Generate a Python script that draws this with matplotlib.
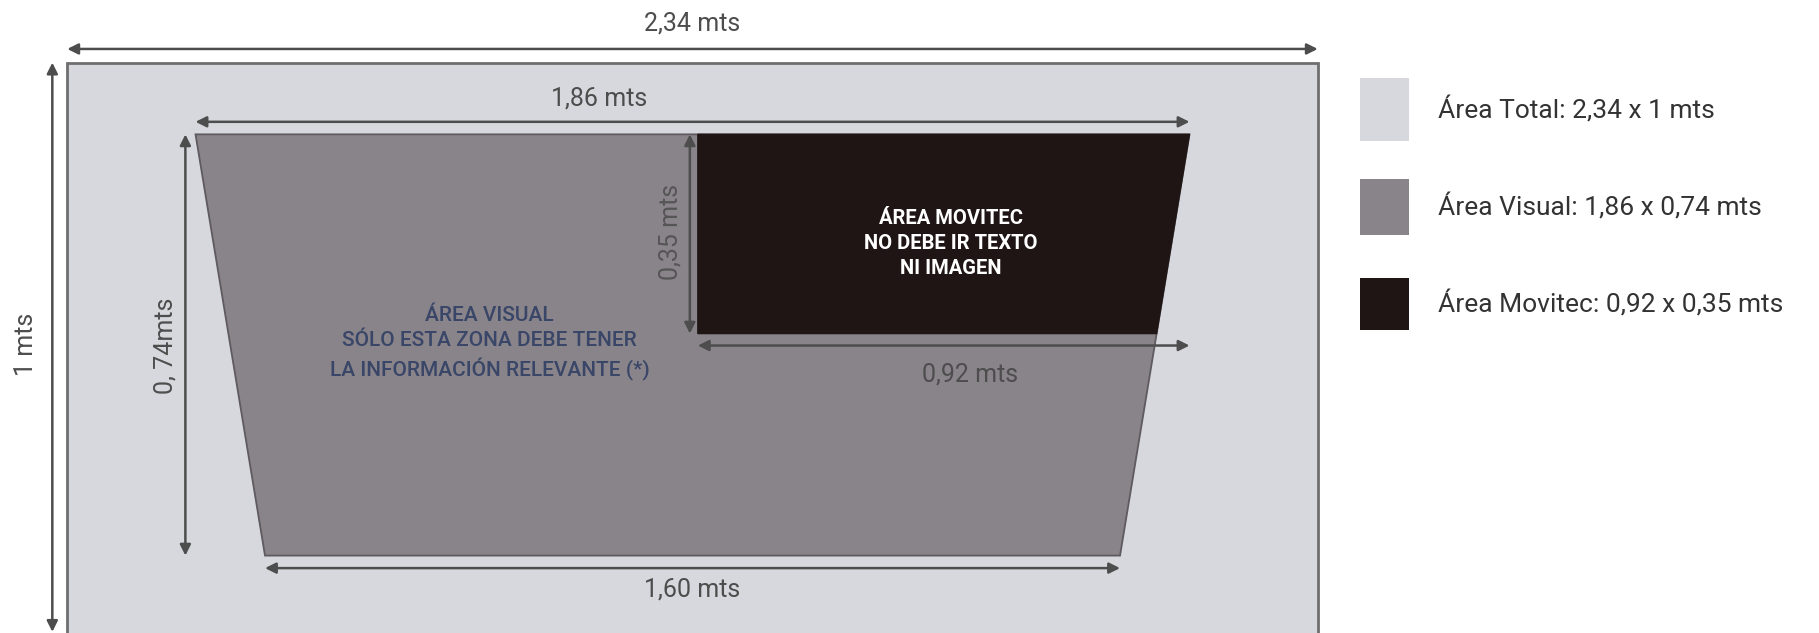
import matplotlib.pyplot as plt
from matplotlib.patches import Polygon, Rectangle

# medidas en metros
area_total = [2.34, 1.0]          # ancho, alto
visual_top = 1.86
visual_bottom = 1.60
visual_alto = 0.74
visual_margen_sup = 0.126
movitec = [0.92, 0.35]            # ancho, alto

etiquetas_cota = {
    "total_w": "2,34 mts",
    "total_h": "1 mts",
    "visual_top": "1,86 mts",
    "visual_bottom": "1,60 mts",
    "visual_h": "0, 74mts",
    "movitec_w": "0,92 mts",
    "movitec_h": "0,35 mts",
}
leyenda = [
    "Área Total: 2,34 x 1 mts",
    "Área Visual: 1,86 x 0,74 mts",
    "Área Movitec: 0,92 x 0,35 mts",
]
colores = ["#d6d8dd", "#89848a", "#1f1515"]

texto_visual = "ÁREA VISUAL\nSÓLO ESTA ZONA DEBE TENER\nLA INFORMACIÓN RELEVANTE (*)"
texto_movitec = "ÁREA MOVITEC\nNO DEBE IR TEXTO\nNI IMAGEN"

FONT = ["Roboto", "DejaVu Sans"]
C_COTA = "#4d4d4d"

fig = plt.figure(figsize=(18.19, 6.33), dpi=100)
ax = fig.add_axes([0, 0, 1, 1])
ax.set_xlim(-0.1259, 3.278)
ax.set_ylim(-0.002, 1.110)
ax.axis("off")

W, H = area_total
ax.add_patch(Rectangle((0, -0.05), W, H + 0.05, facecolor=colores[0], edgecolor="#6e6e6e", lw=2))

# trapecio visual (centrado)
top_y = H - visual_margen_sup
bot_y = top_y - visual_alto
tl = (W - visual_top) / 2
tr = tl + visual_top
bl = (W - visual_bottom) / 2
br = bl + visual_bottom
ax.add_patch(Polygon([(tl, top_y), (tr, top_y), (br, bot_y), (bl, bot_y)],
                     closed=True, facecolor=colores[1], edgecolor="#5e5a60", lw=1.3))

# area movitec (esquina sup. derecha, borde derecho sigue el trapecio)
mw, mh = movitec
m_left = tr - mw
m_bot = top_y - mh
slope = (tr - br) / visual_alto
m_br = tr - slope * mh
ax.add_patch(Polygon([(m_left, top_y), (tr, top_y), (m_br, m_bot), (m_left, m_bot)],
                     closed=True, facecolor=colores[2], edgecolor=colores[2], lw=1))


def cota(x0, y0, x1, y1):
    ax.annotate("", xy=(x1, y1), xytext=(x0, y0), annotation_clip=False,
                arrowprops=dict(arrowstyle="<|-|>", color=C_COTA, lw=1.8,
                                mutation_scale=16, shrinkA=0, shrinkB=0))


def etiqueta(x, y, txt, rot=0, color=C_COTA):
    ax.text(x, y, txt, ha="center", va="center", rotation=rot,
            fontsize=18, color=color, family=FONT)


# cotas
cota(0, 1.024, W, 1.024)
etiqueta(W / 2, 1.069, etiquetas_cota["total_w"])

cota(-0.028, H, -0.028, 0.0)
etiqueta(-0.078, 0.505, etiquetas_cota["total_h"], rot=90)

cota(tl, 0.896, tr, 0.896)
etiqueta(0.996, 0.937, etiquetas_cota["visual_top"])

cota(0.221, top_y, 0.221, bot_y)
etiqueta(0.184, 0.503, etiquetas_cota["visual_h"], rot=90)

cota(m_left - 0.015, top_y, m_left - 0.015, m_bot)
etiqueta(m_left - 0.052, 0.703, etiquetas_cota["movitec_h"], rot=90, color="#555555")

cota(m_left, m_bot - 0.021, tr, m_bot - 0.021)
etiqueta(1.689, 0.452, etiquetas_cota["movitec_w"])

cota(bl, 0.112, br, 0.112)
etiqueta((bl + br) / 2, 0.075, etiquetas_cota["visual_bottom"])

# textos internos
ax.text(0.79, 0.507, texto_visual, ha="center", va="center", fontsize=15,
        color="#3a4668", family=FONT, linespacing=1.4, fontweight="medium")
ax.text(m_left + 0.473, 0.682, texto_movitec, ha="center", va="center", fontsize=14.5,
        color="white", family=FONT, linespacing=1.4, fontweight="bold")

# leyenda (posiciones en pixeles de la imagen 1568x546)
DW, DH = 1568, 546
ley_x = 1172 / DW
ley_w = 43 / DW
ley_top = [67, 154, 240]
ley_bot = [122, 203, 285]
for i, txt in enumerate(leyenda):
    y0 = 1 - ley_bot[i] / DH
    h = (ley_bot[i] - ley_top[i]) / DH
    fig.patches.append(Rectangle((ley_x, y0), ley_w, h,
                                 transform=fig.transFigure, facecolor=colores[i],
                                 edgecolor="none"))
    fig.text(1240 / DW, y0 + h / 2, txt, ha="left", va="center",
             fontsize=19, color="#333333", family=FONT)

fig.savefig("out.png", dpi=100)
